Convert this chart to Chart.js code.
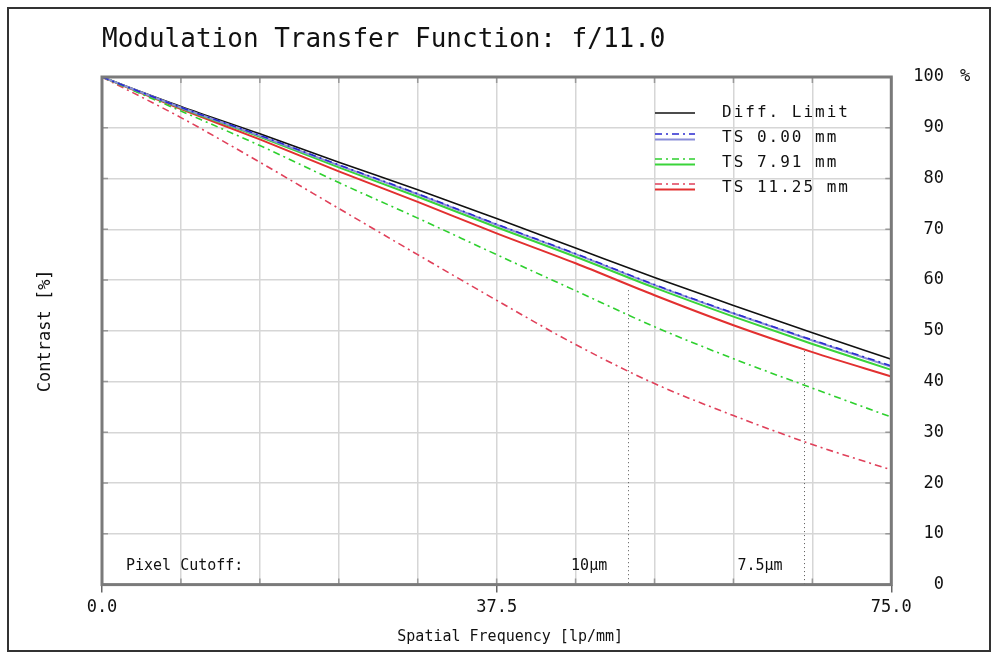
<!DOCTYPE html>
<html>
<head>
<meta charset="utf-8">
<script src="https://cdn.jsdelivr.net/npm/chart.js@4"></script>
<style>
  html, body { margin: 0; padding: 0; background: #fff; }
  #wrap { width: 998px; height: 658px; }
</style>
</head>
<body>
<div id="wrap"><canvas id="mtf" width="998" height="658"></canvas></div>
<script>
// spatial frequency samples (lp/mm) and contrast values (%)
const freqs      = [0, 7.5, 15, 22.5, 30, 37.5, 45, 52.5, 60, 67.5, 75];
const diffLimit  = [100, 94.2, 88.8, 83.2, 77.8, 72.1, 66.3, 60.5, 55.0, 49.6, 44.4];
const ts000Sag   = [100, 94.0, 88.4, 82.6, 76.9, 70.9, 65.1, 59.0, 53.4, 48.1, 42.9];
const ts000Tan   = [100, 94.0, 88.5, 82.7, 77.0, 71.0, 65.2, 59.1, 53.5, 48.2, 43.1];
const ts791Sag   = [100, 93.9, 88.2, 82.2, 76.4, 70.4, 64.6, 58.5, 52.8, 47.4, 42.3];
const ts791Tan   = [100, 93.3, 86.5, 79.2, 72.2, 65.0, 57.9, 50.8, 44.5, 38.7, 33.0];
const ts1125Sag  = [100, 93.7, 87.7, 81.4, 75.4, 69.2, 63.3, 57.0, 51.1, 45.8, 41.0];
const ts1125Tan  = [100, 92.0, 83.2, 74.1, 65.0, 56.0, 47.3, 39.6, 33.3, 27.6, 22.6];

const legendLabels = ['Diff. Limit', 'TS 0.00 mm', 'TS 7.91 mm', 'TS 11.25 mm'];
const xTickLabels  = [0, 37.5, 75];

// pixel cutoff markers
const cutoffFreqs  = [50, 66.67];
const cutoffTops   = [58, 46];
const cutoffLabels = ['10µm', '7.5µm'];

const MONO = '"DejaVu Sans Mono", monospace';
const DASH_DOT = [7, 4, 2, 4];

function pts(values) {
    return freqs.map((f, i) => ({ x: f, y: values[i] }));
}

function isLabelled(v) {
    return xTickLabels.some(t => Math.abs(t - v) < 1e-6);
}

function line(label, values, color, dashed, width) {
    return {
        label: label,
        data: pts(values),
        borderColor: color,
        borderWidth: width || 1.6,
        borderDash: dashed ? DASH_DOT : [],
        pointRadius: 0,
        fill: false,
        cubicInterpolationMode: 'monotone'
    };
}

// frame, legend, cutoff markers and outer border
const decorations = {
    id: 'decorations',
    beforeDraw(chart) {
        const ctx = chart.ctx;
        ctx.save();
        ctx.fillStyle = '#fff';
        ctx.fillRect(0, 0, chart.width, chart.height);
        ctx.restore();
    },
    afterDatasetsDraw(chart) {
        const ctx = chart.ctx;
        const a = chart.chartArea;
        const xs = chart.scales.x;
        const ys = chart.scales.y;
        ctx.save();

        // cutoff dotted lines
        ctx.strokeStyle = '#555';
        ctx.lineWidth = 1;
        ctx.setLineDash([1, 3]);
        cutoffFreqs.forEach((f, i) => {
            const px = Math.round(xs.getPixelForValue(f)) + 0.5;
            ctx.beginPath();
            ctx.moveTo(px, ys.getPixelForValue(cutoffTops[i]));
            ctx.lineTo(px, a.bottom);
            ctx.stroke();
        });
        ctx.setLineDash([]);

        // cutoff labels
        ctx.fillStyle = '#111';
        ctx.font = '15px ' + MONO;
        ctx.textBaseline = 'middle';
        ctx.textAlign = 'left';
        ctx.fillText('Pixel Cutoff:', a.left + 24, a.bottom - 18);
        ctx.textAlign = 'right';
        cutoffFreqs.forEach((f, i) => {
            ctx.fillText(cutoffLabels[i], xs.getPixelForValue(f) - 21, a.bottom - 18);
        });

        // inner tick marks on the frame
        ctx.strokeStyle = '#999';
        ctx.lineWidth = 1.5;
        ys.ticks.forEach(t => {
            const py = ys.getPixelForValue(t.value);
            ctx.beginPath();
            ctx.moveTo(a.left, py); ctx.lineTo(a.left + 6, py);
            ctx.moveTo(a.right, py); ctx.lineTo(a.right - 6, py);
            ctx.stroke();
        });
        xs.ticks.forEach(t => {
            const px = xs.getPixelForValue(t.value);
            ctx.beginPath();
            ctx.moveTo(px, a.top); ctx.lineTo(px, a.top + 6);
            ctx.moveTo(px, a.bottom); ctx.lineTo(px, a.bottom - 6);
            ctx.stroke();
        });

        // plot frame
        ctx.strokeStyle = '#7a7a7a';
        ctx.lineWidth = 3;
        ctx.strokeRect(a.left, a.top, a.right - a.left, a.bottom - a.top);

        // % sign next to the top tick
        ctx.fillStyle = '#111';
        ctx.font = '17px ' + MONO;
        ctx.textAlign = 'left';
        ctx.fillText('%', chart.scales.y2.right + 16, ys.getPixelForValue(100));

        // legend: diff limit alone, then tangential (dash-dot) over sagittal (solid)
        const lx0 = 655, lx1 = 695, tx = 722;
        const rows = [113, 138, 163, 188];
        const ds = chart.data.datasets;
        const pairs = [[null, 6], [0, 1], [2, 3], [4, 5]];
        ctx.font = '16px ' + MONO;
        ctx.letterSpacing = '2px';
        ctx.textAlign = 'left';
        rows.forEach((cy, i) => {
            const [tan, sag] = pairs[i];
            if (tan === null) {
                ctx.strokeStyle = ds[sag].borderColor;
                ctx.lineWidth = 1.3;
                ctx.setLineDash([]);
                ctx.beginPath(); ctx.moveTo(lx0, cy); ctx.lineTo(lx1, cy); ctx.stroke();
            } else {
                ctx.strokeStyle = ds[tan].borderColor;
                ctx.lineWidth = 1.6;
                ctx.setLineDash(DASH_DOT);
                ctx.beginPath(); ctx.moveTo(lx0, cy - 4); ctx.lineTo(lx1, cy - 4); ctx.stroke();
                ctx.strokeStyle = ds[sag].borderColor;
                ctx.lineWidth = 2;
                ctx.setLineDash([]);
                ctx.beginPath(); ctx.moveTo(lx0, cy + 1.5); ctx.lineTo(lx1, cy + 1.5); ctx.stroke();
            }
            ctx.fillStyle = '#111';
            ctx.fillText(legendLabels[i], tx, cy);
        });
        ctx.letterSpacing = '0px';

        // outer border
        ctx.strokeStyle = '#333';
        ctx.lineWidth = 2;
        ctx.strokeRect(8, 8, 982, 643);
        ctx.restore();
    }
};

const chart = new Chart(document.getElementById('mtf').getContext('2d'), {
    type: 'line',
    data: {
        datasets: [
            line('TS 0.00 mm T', ts000Tan, '#2a2ad0', true),
            line('TS 0.00 mm S', ts000Sag, '#8a8ed8', false, 2),
            line('TS 7.91 mm T', ts791Tan, '#2ed02e', true),
            line('TS 7.91 mm S', ts791Sag, '#3ad43a', false, 2),
            line('TS 11.25 mm T', ts1125Tan, '#e0405a', true),
            line('TS 11.25 mm S', ts1125Sag, '#e23030', false, 2),
            line('Diff. Limit', diffLimit, '#111111', false, 1.6)
        ]
    },
    options: {
        responsive: false,
        animation: false,
        devicePixelRatio: 1,
        layout: { padding: { left: 20, right: 54, top: 10, bottom: 12 } },
        plugins: {
            legend: { display: false },
            tooltip: { enabled: false },
            title: {
                display: true,
                text: 'Modulation Transfer Function: f/11.0',
                align: 'start',
                fullSize: false,
                color: '#111',
                font: { family: MONO, size: 26, weight: 'normal', lineHeight: '30px' },
                padding: { top: 15, bottom: 22 }
            }
        },
        scales: {
            x: {
                type: 'linear',
                min: 0,
                max: 75,
                ticks: {
                    stepSize: 7.5,
                    autoSkip: false,
                    maxRotation: 0,
                    padding: 5,
                    color: '#111',
                    font: { family: MONO, size: 17 },
                    callback: v => isLabelled(v) ? v.toFixed(1) : ''
                },
                grid: {
                    color: '#d6d6d6',
                    lineWidth: 1.5,
                    tickLength: 8,
                    tickColor: c => (c.tick && isLabelled(c.tick.value)) ? '#666' : 'rgba(0,0,0,0)',
                    tickWidth: 1.5
                },
                border: { display: false },
                title: {
                    display: true,
                    text: '   Spatial Frequency [lp/mm]',
                    color: '#111',
                    font: { family: MONO, size: 15, lineHeight: '18px' },
                    padding: { top: 5, bottom: 0 }
                }
            },
            y: {
                position: 'left',
                min: 0,
                max: 100,
                ticks: { stepSize: 10, display: false },
                grid: { color: '#d6d6d6', lineWidth: 1.5, drawTicks: false },
                border: { display: false },
                title: {
                    display: true,
                    text: 'Contrast [%]',
                    color: '#111',
                    font: { family: MONO, size: 17, lineHeight: '19px' },
                    padding: { top: 16, bottom: 47 }
                }
            },
            y2: {
                position: 'right',
                min: 0,
                max: 100,
                ticks: {
                    stepSize: 10,
                    padding: 11,
                    crossAlign: 'far',
                    color: '#111',
                    font: { family: MONO, size: 17 }
                },
                grid: { display: false, drawTicks: false },
                border: { display: false }
            }
        }
    },
    plugins: [decorations]
});
</script>
</body>
</html>
